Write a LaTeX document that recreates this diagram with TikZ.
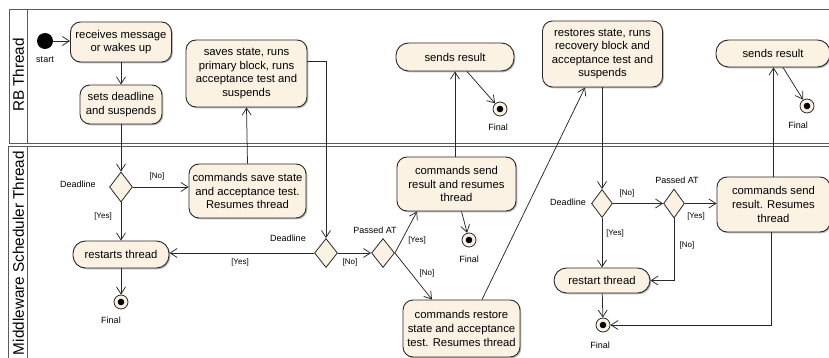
\documentclass[tikz,border=0pt]{standalone}
\usepackage{fontspec}
\setmainfont{Liberation Sans}
\usetikzlibrary{arrows.meta,shapes.geometric,shadows}
\definecolor{actfill}{RGB}{251,242,228}
\definecolor{lineclr}{RGB}{40,40,40}
\definecolor{frameclr}{RGB}{90,90,90}
\tikzset{
  act/.style={draw=lineclr, line width=0.9pt, fill=actfill, rounded corners=10pt, align=center,
    inner sep=0pt, font=\fontsize{11.3}{13.6}\selectfont,
    drop shadow={shadow xshift=1.3pt, shadow yshift=-1.3pt, fill=black!45, opacity=0.6}},
  pill/.style={act, rounded corners=12.5pt},
  dec/.style={draw=lineclr, line width=0.8pt, fill=actfill, diamond, inner sep=0pt, aspect=0.78},
  fin/.style={draw=lineclr, line width=0.8pt, fill=actfill, circle, minimum size=14pt, inner sep=0pt,
    path picture={\fill[black] (path picture bounding box.center) circle (3.3pt);}},
  startnode/.style={fill=black, circle, minimum size=16pt, inner sep=0pt},
  arr/.style={draw=lineclr, line width=0.75pt, -{Straight Barb[length=7pt,width=9pt,line width=0.75pt]}},
  lbl/.style={font=\fontsize{9}{10}\selectfont, inner sep=0pt},
  elbl/.style={font=\fontsize{8}{9}\selectfont, inner sep=0pt},
  lane/.style={font=\fontsize{15.3}{16}\selectfont, rotate=90, inner sep=0pt},
  frame/.style={draw=frameclr, line width=0.9pt}
}
\begin{document}
\begin{tikzpicture}[x=1pt, y=-1pt]
\useasboundingbox (0,0) rectangle (829,358);
% frame
\draw[frame] (9,9) -- (829,9);
\draw[frame] (9,9) -- (9,143);
\draw[frame] (27,9) -- (27,143);
\draw[frame] (9,143) -- (829,143);
\draw[frame] (8,146.5) -- (829,146.5);
\draw[frame] (8,146.5) -- (8,358);
\draw[frame] (27,146.5) -- (27,358);
\node[lane] (laneRB) at (18.5,75) {RB Thread};
\node[lane] (laneMW) at (18.5,253) {Middleware Scheduler Thread};

% RB thread
\node[startnode] (start) at (45,41) {};
\node[lbl] (startlbl) at (45,60) {start};
\node[act, minimum width=101pt, minimum height=40pt] (recv) at (121,42) {receives message\\or wakes up};
\node[act, minimum width=82pt, minimum height=39pt] (setd) at (121,104.5) {sets deadline\\and suspends};
\node[act, minimum width=121pt, minimum height=67pt] (saves) at (246.5,73.5) {saves state, runs\\primary block, runs\\acceptance test and\\suspends};
\node[pill, minimum width=118pt, minimum height=28pt] (send1) at (455,57) {sends result};
\node[fin] (f1) at (500,109) {};
\node[lbl] (f1l) at (498,127) {Final};
\node[act, minimum width=120pt, minimum height=66pt] (restores) at (602.5,54) {restores state, runs\\recovery block and\\acceptance test and\\suspends};
\node[pill, minimum width=114pt, minimum height=27pt] (send2) at (773,53.5) {sends result};
\node[fin] (f2) at (807,106) {};
\node[lbl] (f2l) at (798,125) {Final};

% Middleware thread
\node[dec, minimum width=23pt, minimum height=30pt] (d1) at (121,187) {};
\node[lbl] (d1l) at (78,184) {Deadline};
\node[act, minimum width=117pt, minimum height=54pt] (cmdsave) at (247.5,191) {commands save state\\and acceptance test.\\Resumes thread};
\node[pill, minimum width=96pt, minimum height=27pt] (restarts) at (121,254.5) {restarts thread};
\node[fin] (f3) at (121,302) {};
\node[lbl] (f3l) at (111,320) {Final};
\node[dec, minimum width=23pt, minimum height=29pt] (d2) at (326,253) {};
\node[lbl] (d2l) at (288,238) {Deadline};
\node[dec, minimum width=23pt, minimum height=29pt] (d3) at (383,253) {};
\node[lbl] (d3l) at (375,230) {Passed AT};
\node[act, minimum width=119pt, minimum height=54pt] (cmdsend) at (456.5,184) {commands send\\result and resumes\\thread};
\node[fin] (f4) at (469,240) {};
\node[lbl] (f4l) at (469,259) {Final};
\node[act, minimum width=117pt, minimum height=57pt] (cmdrestore) at (461.5,328.5) {commands restore\\state and acceptance\\test. Resumes thread};
\node[dec, minimum width=21pt, minimum height=28pt] (d4) at (602,203.5) {};
\node[lbl] (d4l) at (568,202) {Deadline};
\node[dec, minimum width=21pt, minimum height=29pt] (d5) at (674,203.5) {};
\node[lbl] (d5l) at (677,180) {Passed AT};
\node[act, minimum width=113pt, minimum height=55pt] (cmdsend2) at (773.5,204.5) {commands send\\result. Resumes\\thread};
\node[pill, minimum width=96pt, minimum height=25pt] (restart) at (602,280.5) {restart thread};
\node[fin] (f5) at (603,325) {};
\node[lbl] (f5l) at (600,345) {Final};

% edges
\draw[arr] (start) -- (recv.west |- start);
\draw[arr] (recv) -- (setd);
\draw[arr] (setd.south) -- (d1.north);
\draw[arr] (d1.east) -- (d1.east -| cmdsave.west);
\node[elbl] (lno1) at (157,176) {[No]};
\draw[arr] (d1.south) -- (restarts.north);
\node[elbl] (lyes1) at (103,216) {[Yes]};
\draw[arr] (cmdsave.north) -- (saves.south);
\draw[arr] ([yshift=12.5pt]saves.east) -| (d2.north);
\draw[arr] (d2.west) -- (d2.west -| restarts.east);
\node[elbl] (lyes2) at (240,262) {[Yes]};
\draw[arr] (restarts) -- (f3);
\draw[arr] (d2.east) -- (d3.west);
\node[elbl] (lno2) at (350,262) {[No]};
\draw[arr] (d3.east) -- ([xshift=-39.5pt]cmdsend.south);
\node[elbl] (lyes3) at (417,240) {[Yes]};
\draw[arr] (d3.east) -- ([xshift=-29.5pt]cmdrestore.north);
\node[elbl] (lno3) at (427,273) {[No]};
\draw[arr] (cmdsend.north -| send1.south) -- (send1.south);
\draw[arr] ([xshift=12pt]send1.south) -- (f1);
\draw[arr] ([xshift=5pt]cmdsend.south) -- (f4);
\draw[arr] ([xshift=20.5pt]cmdrestore.north) -- ([xshift=-17.5pt]restores.south);
\draw[arr] (d4.north |- restores.south) -- (d4.north);
\draw[arr] (d4.east) -- (d5.west);
\node[elbl] (lno4) at (627,193) {[No]};
\draw[arr] (d4.south) -- (restart.north);
\node[elbl] (lyes4) at (615,233) {[Yes]};
\draw[arr] (d5.east) -- (d5.east -| cmdsend2.west);
\node[elbl] (lyes5) at (696,216) {[Yes]};
\draw[arr] (d5.south) |- (restart.east);
\node[elbl] (lno5) at (687,245) {[No]};
\draw[arr] (restart) -- (f5);
\draw[arr] (cmdsend2.north) -- (send2.south -| cmdsend2.north);
\draw[arr] ([xshift=10pt]send2.south) -- (f2);
\draw[arr] ([xshift=-2pt]cmdsend2.south) |- (f5.east);
\end{tikzpicture}
\end{document}
